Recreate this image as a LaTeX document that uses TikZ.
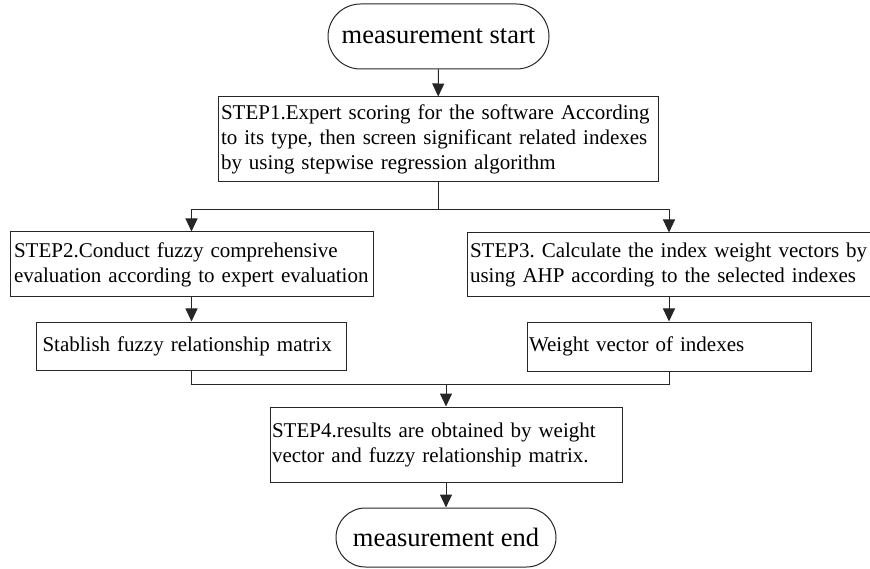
\documentclass[tikz,border=0pt]{standalone}
\usepackage{fontspec}
\setmainfont{Liberation Serif}
\usetikzlibrary{arrows.meta,shapes.misc}
\frenchspacing
\begin{document}
\begin{tikzpicture}[x=1pt,y=-1pt,
  outline/.style={draw=black!85, line width=1pt},
  terminal/.style={outline, rounded rectangle, inner sep=0pt,
    font=\fontsize{26.5}{30}\selectfont},
  stepbox/.style={outline, rectangle, align=left, inner ysep=0pt,
    font=\fontsize{21}{25}\selectfont},
  link/.style={draw=black!85, line width=1pt},
  arrow/.style={link, -{Triangle[width=12pt,length=13pt]}}
]
\useasboundingbox (0,0) rectangle (870,569);

% terminals
\node[terminal, minimum width=221pt, minimum height=65pt] (start) at (438.5,36.5) {measurement start};
\node[terminal, minimum width=220pt, minimum height=59pt] (stop) at (446,537.5) {measurement end};

% process steps
\node[stepbox, minimum width=440pt, minimum height=85pt, inner xsep=3pt, text width=434pt] (s1) at (438,139.5)
  {\mbox{STEP1.Expert scoring for the software According}\\\mbox{to its type, then screen significant related indexes}\\\mbox{by using stepwise regression algorithm}};
\node[stepbox, minimum width=363pt, minimum height=65pt, inner xsep=4pt, text width=355pt] (s2) at (191.5,264.5)
  {\mbox{STEP2.Conduct fuzzy comprehensive}\\\mbox{evaluation according to expert evaluation}};
\node[stepbox, minimum width=404pt, minimum height=64pt, inner xsep=3pt, text width=398pt] (s3) at (669,265)
  {\mbox{STEP3. Calculate the index weight vectors by}\\\mbox{using AHP according to the selected indexes}};
\node[stepbox, minimum width=310pt, minimum height=48pt, inner xsep=6pt, text width=298pt] (fuzzy) at (191.5,346)
  {Stablish fuzzy relationship matrix};
\node[stepbox, minimum width=284pt, minimum height=49pt, inner xsep=2pt, text width=280pt] (weight) at (669,346.5)
  {Weight vector of indexes};
\node[stepbox, minimum width=352pt, minimum height=75pt, inner xsep=2pt, text width=348pt] (s4) at (446,444.5)
  {\mbox{STEP4.results are obtained by weight}\\\mbox{vector and fuzzy relationship matrix.}};

% branch and merge points
\coordinate (split) at (438,210);
\coordinate (merge) at (446,384);

% connectors
\draw[arrow] (start) -- (s1);
\draw[link] (s1) -- (split);
\draw[arrow] (split) -| (s2);
\draw[arrow] (split) -| (s3);
\draw[arrow] (s2) -- (fuzzy);
\draw[arrow] (s3) -- (weight);
\draw[link] (fuzzy) |- (merge);
\draw[link] (weight) |- (merge);
\draw[arrow] (merge) -- (s4);
\draw[arrow] (s4) -- (stop);
\end{tikzpicture}
\end{document}
